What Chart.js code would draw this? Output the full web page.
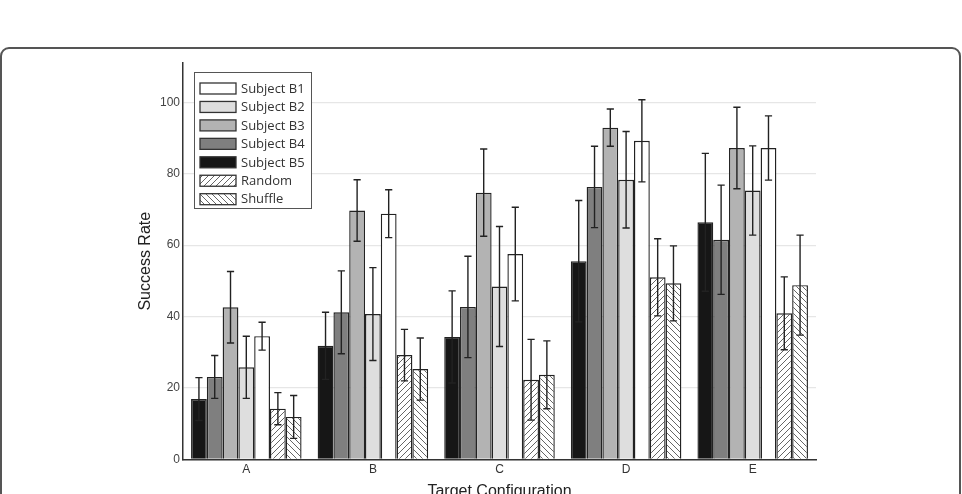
<!DOCTYPE html>
<html>
<head>
<meta charset="utf-8">
<script src="https://cdn.jsdelivr.net/npm/chart.js@4/dist/chart.umd.min.js"></script>
<style>
  html, body { margin: 0; padding: 0; background: #fff; overflow: hidden; width: 962px; height: 494px; }
  #frame { position: absolute; left: 0; top: 47px; width: 961px; height: 520px; box-sizing: border-box;
           border: 2px solid #555; border-radius: 9px; z-index: 0; }
  #c { position: absolute; left: 0; top: 0; z-index: 1; }
</style>
</head>
<body>
<div id="frame"></div>
<canvas id="c" width="962" height="510" style="width:962px;height:510px"></canvas>
<script>
// ---- data ----
const categories = ["A", "B", "C", "D", "E"];
const seriesNames = ["Subject B5", "Subject B4", "Subject B3", "Subject B2", "Subject B1", "Random", "Shuffle"];
const valB5 = [16.9, 31.8, 34.3, 55.5, 66.4];
const valB4 = [23.1, 41.2, 42.7, 76.3, 61.5];
const valB3 = [42.6, 69.7, 74.7, 92.9, 87.2];
const valB2 = [25.8, 40.7, 48.4, 78.3, 75.3];
const valB1 = [34.5, 68.8, 57.5, 89.2, 87.2];
const valRandom = [14.2, 29.2, 22.3, 51.0, 40.9];
const valShuffle = [11.9, 25.3, 23.7, 49.3, 48.8];
const errB5 = [6.0, 9.4, 12.9, 17.0, 19.3];
const errB4 = [6.0, 11.6, 14.2, 11.4, 15.3];
const errB3 = [10.0, 8.6, 12.2, 5.2, 11.4];
const errB2 = [8.7, 13.0, 16.8, 13.5, 12.5];
const errB1 = [3.9, 6.7, 13.1, 11.5, 9.0];
const errRandom = [4.5, 7.2, 11.3, 10.8, 10.2];
const errShuffle = [6.0, 8.7, 9.5, 10.5, 14.0];
const yTicks = [0, 20, 40, 60, 80, 100];
const legendOrder = ["Subject B1", "Subject B2", "Subject B3", "Subject B4", "Subject B5", "Random", "Shuffle"];

// ---- styles ----
function hatch(dir) {
  const s = 6;
  const pc = document.createElement('canvas');
  pc.width = s; pc.height = s;
  const p = pc.getContext('2d');
  p.fillStyle = '#fff'; p.fillRect(0, 0, s, s);
  p.strokeStyle = '#555'; p.lineWidth = 0.9;
  p.beginPath();
  if (dir > 0) {
    p.moveTo(-1, s + 1); p.lineTo(s + 1, -1);
    p.moveTo(-1, 1); p.lineTo(1, -1);
    p.moveTo(s - 1, s + 1); p.lineTo(s + 1, s - 1);
  } else {
    p.moveTo(-1, -1); p.lineTo(s + 1, s + 1);
    p.moveTo(s - 1, -1); p.lineTo(s + 1, 1);
    p.moveTo(-1, s - 1); p.lineTo(1, s + 1);
  }
  p.stroke();
  return document.getElementById('c').getContext('2d').createPattern(pc, 'repeat');
}
const fills = ['#161616', '#7f7f7f', '#b3b3b3', '#dedede', '#ffffff', hatch(1), hatch(-1)];
const values = [valB5, valB4, valB3, valB2, valB1, valRandom, valShuffle];
const errors = [errB5, errB4, errB3, errB2, errB1, errRandom, errShuffle];

const datasets = seriesNames.map((n, i) => ({
  label: n,
  data: values[i],
  errors: errors[i],
  backgroundColor: fills[i],
  borderColor: '#222',
  borderWidth: 1.4,
  barPercentage: 1.0,
  categoryPercentage: 0.873
}));

const errorBars = {
  id: 'errorBars',
  afterDatasetsDraw(chart) {
    const ctx = chart.ctx, ys = chart.scales.y;
    ctx.save();
    ctx.strokeStyle = '#222';
    ctx.lineWidth = 1.4;
    chart.data.datasets.forEach((ds, i) => {
      const meta = chart.getDatasetMeta(i);
      meta.data.forEach((bar, j) => {
        const v = ds.data[j], e = ds.errors[j];
        const yt = ys.getPixelForValue(v + e), yb = ys.getPixelForValue(v - e);
        const x = bar.x, cap = 3.6;
        ctx.beginPath();
        ctx.moveTo(x, yt); ctx.lineTo(x, yb);
        ctx.moveTo(x - cap, yt); ctx.lineTo(x + cap, yt);
        ctx.moveTo(x - cap, yb); ctx.lineTo(x + cap, yb);
        ctx.stroke();
      });
    });
    ctx.restore();
  }
};

const boxLegend = {
  id: 'boxLegend',
  afterDraw(chart) {
    const ctx = chart.ctx;
    const bx = 194, by = 72, bw = 117, bh = 136;
    ctx.save();
    ctx.fillStyle = '#fff';
    ctx.fillRect(bx, by, bw, bh);
    ctx.strokeStyle = '#555';
    ctx.lineWidth = 1;
    ctx.strokeRect(bx + 0.5, by + 0.5, bw, bh);
    ctx.font = '13px "Open Sans", "Liberation Sans", sans-serif';
    ctx.textBaseline = 'middle';
    legendOrder.forEach((name, k) => {
      const idx = chart.data.datasets.findIndex(d => d.label === name);
      const ds = chart.data.datasets[idx];
      const cy = by + 16.5 + k * 18.45;
      ctx.fillStyle = ds.backgroundColor;
      ctx.fillRect(200, cy - 5.5, 36, 11);
      ctx.strokeStyle = '#333';
      ctx.lineWidth = 1.3;
      ctx.strokeRect(200, cy - 5.5, 36, 11);
      ctx.fillStyle = '#333';
      ctx.fillText(name, 241, cy + 0.5);
    });
    ctx.restore();
  }
};

new Chart(document.getElementById('c'), {
  type: 'bar',
  data: { labels: categories, datasets },
  options: {
    responsive: false,
    animation: false,
    devicePixelRatio: 1,
    layout: { padding: { left: 136, right: 146, top: 63, bottom: 9 } },
    plugins: { legend: { display: false }, tooltip: { enabled: false } },
    scales: {
      x: {
        grid: { display: false, drawTicks: false },
        border: { display: true, color: '#333', width: 1.5 },
        ticks: { color: '#333', padding: 3, font: { family: '"Liberation Sans", Arial, sans-serif', size: 12 } },
        title: { display: true, text: 'Target Configuration', color: '#222',
                 padding: { top: 2, bottom: 0 },
                 font: { family: '"Liberation Sans", Arial, sans-serif', size: 16 } }
      },
      y: {
        min: 0, max: 111,
        afterBuildTicks(scale) { scale.ticks = yTicks.map(v => ({ value: v })); },
        afterFit(scale) { scale.width = 47; },
        grid: { color: '#e6e6e6', lineWidth: 1.2, drawTicks: false },
        border: { display: true, color: '#333', width: 1.5 },
        ticks: { color: '#444', padding: 3, font: { family: '"Liberation Sans", Arial, sans-serif', size: 12 } },
        title: { display: true, text: 'Success Rate', color: '#222',
                 padding: { top: 0, bottom: 0 },
                 font: { family: '"Liberation Sans", Arial, sans-serif', size: 16 } }
      }
    }
  },
  plugins: [errorBars, boxLegend]
});
</script>
</body>
</html>
